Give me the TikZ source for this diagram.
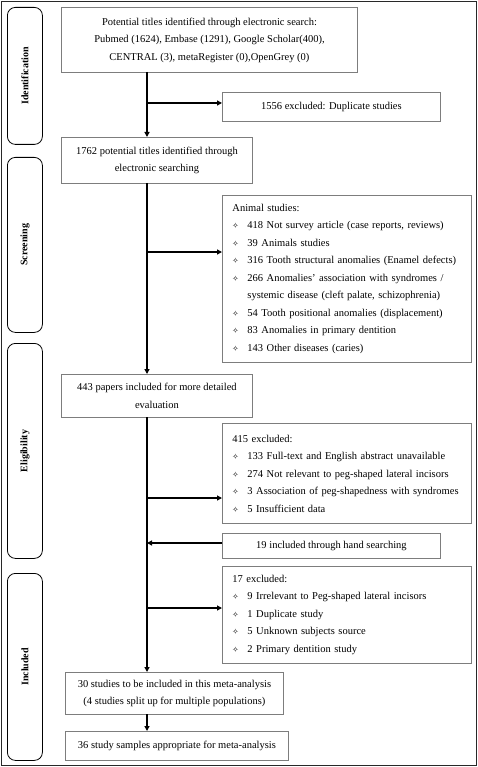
\documentclass[tikz,border=0pt]{standalone}
\usepackage{fontspec}
\setmainfont{Liberation Serif}
\newfontfamily\dejavu{DejaVu Sans}
\usetikzlibrary{arrows.meta}
\newcommand\bul{\makebox[15pt][l]{\dejavu\fontsize{7.5}{7.5}\selectfont ✧}}
\newcommand\li[1]{\mbox{\bul#1}}
\begin{document}
\begin{tikzpicture}[x=1pt,y=-1pt,
  box/.style={draw={rgb,255:red,125;green,125;blue,125}, line width=0.9pt, inner sep=0pt,
    anchor=north west, align=center, font=\fontsize{10.5}{17.5}\selectfont},
  listbox/.style={box, align=left, text width=229pt, inner xsep=10pt},
  side/.style={draw=black, line width=0.8pt, rounded corners=8pt, anchor=north west,
    minimum width=35pt, inner sep=0pt},
  sidetext/.style={rotate=90, font=\fontsize{10}{12}\selectfont\bfseries},
  arr/.style={draw=black, line width=1.2pt, -{Triangle[length=5pt,width=5pt]}},
  ln/.style={draw=black, line width=1.2pt}]
\useasboundingbox (0,0) rectangle (478,767);
\draw[line width=0.9pt, draw={rgb,255:red,40;green,40;blue,40}] (1.5,1.5) rectangle (476.5,765.5);
% side labels
\node[side, minimum height=137pt] (sid) at (7,7) {};
\node[sidetext] (sidt) at (sid.center) {Identification};
\node[side, minimum height=175pt] (sscr) at (7,157) {};
\node[sidetext] (sscrt) at (sscr.center) {Screening};
\node[side, minimum height=215pt] (selig) at (7,343) {};
\node[sidetext] (seligt) at (selig.center) {Eligibility};
\node[side, minimum height=187pt] (sinc) at (7,573) {};
\node[sidetext] (sinct) at (sinc.center) {Included};
% main boxes
\node[box, minimum width=296pt, minimum height=65pt] (b1) at (61,7)
  {Potential titles identified through electronic search:\\
   Pubmed (1624), Embase (1291), Google Scholar(400),\\
   CENTRAL (3), metaRegister (0),OpenGrey (0)};
\node[box, minimum width=218pt, minimum height=29pt] (dup) at (222,92)
  {1556 excluded: Duplicate studies};
\node[box, minimum width=191pt, minimum height=46pt] (b2) at (61,137)
  {1762 potential titles identified through\\ electronic searching};
\node[listbox, minimum height=167pt] (animal) at (222,195)
  {Animal studies:\\
   \li{418 Not survey article (case reports, reviews)}\\
   \li{39 Animals studies}\\
   \li{316 Tooth structural anomalies (Enamel defects)}\\
   \li{266 Anomalies' association with syndromes /}\\
   \mbox{\hspace*{15pt}systemic disease (cleft palate, schizophrenia)}\\
   \li{54 Tooth positional anomalies (displacement)}\\
   \li{83 Anomalies in primary dentition}\\
   \li{143 Other diseases (caries)}};
\node[box, minimum width=191pt, minimum height=43pt] (b3) at (61,374)
  {443 papers included for more detailed\\ evaluation};
\node[listbox, minimum height=100pt] (ex415) at (222,423)
  {415 excluded:\\
   \li{133 Full-text and English abstract unavailable}\\
   \li{274 Not relevant to peg-shaped lateral incisors}\\
   \li{3 Association of peg-shapedness with syndromes}\\
   \li{5 Insufficient data}};
\node[box, minimum width=218pt, minimum height=25pt] (hand) at (222,533)
  {19 included through hand searching};
\node[listbox, minimum height=97pt] (ex17) at (222,566)
  {17 excluded:\\
   \li{9 Irrelevant to Peg-shaped lateral incisors}\\
   \li{1 Duplicate study}\\
   \li{5 Unknown subjects source}\\
   \li{2 Primary dentition study}};
\node[box, minimum width=218pt, minimum height=42pt] (b4) at (65,672)
  {30 studies to be included in this meta-analysis\\ (4 studies split up for multiple populations)};
\node[box, minimum width=223pt, minimum height=29pt] (b5) at (65,731)
  {36 study samples appropriate for meta-analysis};
% connectors
\coordinate (t1) at (147,72);
\coordinate (t2) at (147,137);
\coordinate (j1) at (147,103);
\draw[arr] (t1) -- (t2);
\draw[arr] (j1) -- (j1 -| dup.west);
\coordinate (t3) at (147,183);
\coordinate (t4) at (147,374);
\coordinate (j2) at (147,252);
\draw[arr] (t3) -- (t4);
\draw[arr] (j2) -- (j2 -| animal.west);
\coordinate (t5) at (147,417);
\coordinate (t6) at (147,672);
\coordinate (j3) at (147,498);
\coordinate (j4) at (147,543);
\coordinate (j5) at (147,608);
\draw[arr] (t5) -- (t6);
\draw[arr] (j3) -- (j3 -| ex415.west);
\draw[arr] (j4 -| hand.west) -- (j4);
\draw[arr] (j5) -- (j5 -| ex17.west);
\coordinate (t7) at (147,714);
\coordinate (t8) at (147,731);
\draw[arr] (t7) -- (t8);
\end{tikzpicture}
\end{document}
